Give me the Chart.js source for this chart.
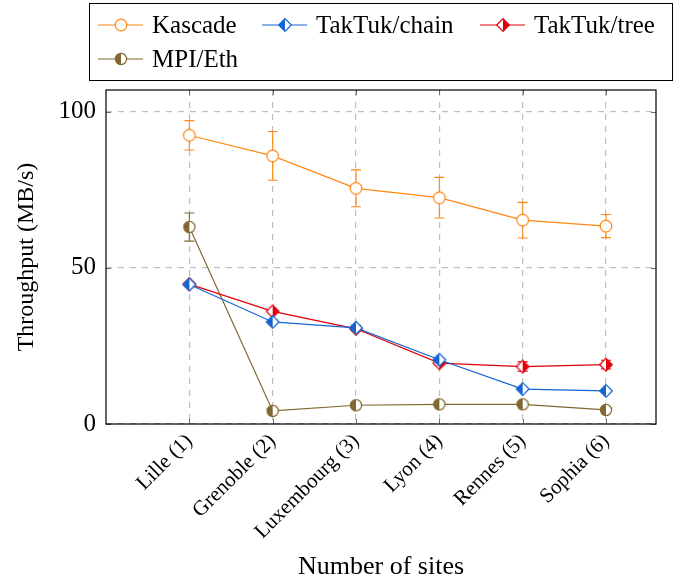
<!DOCTYPE html>
<html>
<head>
<meta charset="utf-8">
<script src="https://cdn.jsdelivr.net/npm/chart.js@4"></script>
<style>
  html, body { margin: 0; padding: 0; background: #fff; }
  #wrap { width: 683px; height: 581px; }
</style>
</head>
<body>
<div id="wrap"><canvas id="grafico"></canvas></div>
<script>
// DATOS
const sitios = ['Lille (1)', 'Grenoble (2)', 'Luxembourg (3)', 'Lyon (4)', 'Rennes (5)', 'Sophia (6)'];
const posiciones = [1, 2, 3, 4, 5, 6];
const yTicks = [0, 50, 100];

const kascade = [92.5, 85.9, 75.5, 72.5, 65.3, 63.4];
const kascadeErr = [4.7, 7.8, 5.9, 6.5, 5.7, 3.7];
const chain = [44.7, 32.7, 30.8, 20.6, 11.2, 10.6];
const chainErr = [0.3, 0.5, 0.8, 0.5, 0.4, 0.4];
const tree = [44.8, 36.1, 30.5, 19.5, 18.4, 19.0];
const treeErr = [0.3, 0.4, 0.6, 0.6, 1.5, 1.4];
const mpi = [63.1, 4.2, 6.0, 6.3, 6.3, 4.5];
const mpiErr = [4.5, 0.4, 0.3, 0.3, 0.3, 0.3];

const NARANJA = 'rgb(255,135,20)';
const AZUL = 'rgb(20,100,210)';
const ROJO = 'rgb(225,0,10)';
const OLIVA = 'rgb(128,104,48)';
const FUENTE = '"Liberation Serif", "DejaVu Serif", serif';

// MARCADORES MEDIO RELLENOS
function marcador(forma, color, lado) {
    const c = document.createElement('canvas');
    c.width = 16; c.height = 16;
    const g = c.getContext('2d');
    const m = 8, r = 5.6;
    g.lineWidth = 1.2;
    g.strokeStyle = color;
    g.fillStyle = '#fff';
    if (forma === 'circulo') {
        g.beginPath(); g.arc(m, m, r, 0, Math.PI * 2); g.fill();
        g.fillStyle = color;
        g.beginPath();
        if (lado === 'izq') g.arc(m, m, r, Math.PI / 2, Math.PI * 1.5);
        else g.arc(m, m, r, -Math.PI / 2, Math.PI / 2);
        g.closePath(); g.fill();
        g.beginPath(); g.arc(m, m, r, 0, Math.PI * 2); g.stroke();
    } else {
        const rd = 6.3;
        g.beginPath();
        g.moveTo(m - rd, m); g.lineTo(m, m - rd); g.lineTo(m + rd, m); g.lineTo(m, m + rd);
        g.closePath(); g.fill();
        g.fillStyle = color;
        g.beginPath();
        if (lado === 'izq') { g.moveTo(m, m - rd); g.lineTo(m - rd, m); g.lineTo(m, m + rd); }
        else { g.moveTo(m, m - rd); g.lineTo(m + rd, m); g.lineTo(m, m + rd); }
        g.closePath(); g.fill();
        g.beginPath();
        g.moveTo(m - rd, m); g.lineTo(m, m - rd); g.lineTo(m + rd, m); g.lineTo(m, m + rd);
        g.closePath(); g.stroke();
    }
    return c;
}

const mKascade = (function () {
    const c = document.createElement('canvas');
    c.width = 16; c.height = 16;
    const g = c.getContext('2d');
    g.fillStyle = '#fff'; g.strokeStyle = NARANJA; g.lineWidth = 1.2;
    g.beginPath(); g.arc(8, 8, 5.8, 0, Math.PI * 2); g.fill(); g.stroke();
    return c;
})();
const mChain = marcador('diamante', AZUL, 'izq');
const mTree = marcador('diamante', ROJO, 'der');
const mMpi = marcador('circulo', OLIVA, 'izq');

function serie(label, valores, errores, color, imagen) {
    return {
        label: label,
        data: posiciones.map((x, i) => ({ x: x, y: valores[i] })),
        errores: errores,
        imagen: imagen,
        borderColor: color,
        backgroundColor: color,
        borderWidth: 1.2,
        pointStyle: imagen,
        pointRadius: 6,
        tension: 0
    };
}

// BARRAS DE ERROR
const barrasError = {
    id: 'barrasError',
    beforeDatasetsDraw(chart) {
        const ctx = chart.ctx;
        const ys = chart.scales.y;
        chart.data.datasets.forEach((ds, i) => {
            const meta = chart.getDatasetMeta(i);
            ctx.save();
            ctx.strokeStyle = ds.borderColor;
            ctx.lineWidth = 1.1;
            meta.data.forEach((p, j) => {
                const e = ds.errores[j];
                const v = ds.data[j].y;
                const y1 = ys.getPixelForValue(v + e);
                const y2 = ys.getPixelForValue(v - e);
                ctx.beginPath();
                ctx.moveTo(p.x, y1); ctx.lineTo(p.x, y2);
                ctx.moveTo(p.x - 5, y1); ctx.lineTo(p.x + 5, y1);
                ctx.moveTo(p.x - 5, y2); ctx.lineTo(p.x + 5, y2);
                ctx.stroke();
            });
            ctx.restore();
        });
    }
};

// MARCO, MARCAS INTERIORES Y LEYENDA
const marco = {
    id: 'marco',
    afterDraw(chart) {
        const ctx = chart.ctx;
        const a = chart.chartArea;
        const xs = chart.scales.x, ys = chart.scales.y;
        ctx.save();
        ctx.strokeStyle = 'rgb(110,110,110)';
        ctx.lineWidth = 1;
        ctx.beginPath();
        posiciones.forEach(v => {
            const px = Math.round(xs.getPixelForValue(v)) + 0.5;
            ctx.moveTo(px, a.bottom); ctx.lineTo(px, a.bottom - 5);
            ctx.moveTo(px, a.top); ctx.lineTo(px, a.top + 5);
        });
        yTicks.forEach(v => {
            const py = Math.round(ys.getPixelForValue(v)) + 0.5;
            ctx.moveTo(a.left, py); ctx.lineTo(a.left + 5, py);
            ctx.moveTo(a.right, py); ctx.lineTo(a.right - 5, py);
        });
        ctx.stroke();
        ctx.strokeStyle = '#000';
        ctx.lineWidth = 1.2;
        ctx.strokeRect(a.left, a.top, a.right - a.left, a.bottom - a.top);

        // leyenda
        ctx.lineWidth = 1;
        ctx.strokeRect(89.5, 3.5, 583, 77);
        const columnas = [98, 262, 480];
        const filas = [25, 59];
        ctx.font = '25px ' + FUENTE;
        ctx.textBaseline = 'middle';
        chart.data.datasets.forEach((ds, i) => {
            const x0 = columnas[i % 3];
            const y0 = filas[Math.floor(i / 3)];
            ctx.strokeStyle = ds.borderColor;
            ctx.lineWidth = 1.2;
            ctx.beginPath(); ctx.moveTo(x0, y0); ctx.lineTo(x0 + 45, y0); ctx.stroke();
            ctx.drawImage(ds.imagen, x0 + 23 - 8, y0 - 8);
            ctx.fillStyle = '#000';
            ctx.fillText(ds.label, x0 + 54, y0 + 1);
        });
        ctx.restore();
    }
};

new Chart(document.getElementById('grafico'), {
    type: 'line',
    data: {
        datasets: [
            serie('Kascade', kascade, kascadeErr, NARANJA, mKascade),
            serie('TakTuk/chain', chain, chainErr, AZUL, mChain),
            serie('TakTuk/tree', tree, treeErr, ROJO, mTree),
            serie('MPI/Eth', mpi, mpiErr, OLIVA, mMpi)
        ]
    },
    options: {
        responsive: true,
        maintainAspectRatio: false,
        animation: false,
        events: [],
        layout: { padding: { top: 90, right: 27, left: 0, bottom: 0 } },
        plugins: { legend: { display: false }, tooltip: { enabled: false } },
        scales: {
            x: {
                type: 'linear',
                min: 0,
                max: 6.6,
                afterBuildTicks: (s) => { s.ticks = posiciones.map(v => ({ value: v })); },
                afterFit: (s) => { s.height = 157; },
                grid: { color: 'rgb(190,190,190)', drawTicks: false, lineWidth: 1.2 },
                border: { display: false, dash: [6, 6] },
                ticks: {
                    autoSkip: false,
                    minRotation: 45,
                    maxRotation: 45,
                    padding: 5,
                    color: '#000',
                    font: { family: FUENTE, size: 21 },
                    callback: (v) => sitios[posiciones.indexOf(v)]
                },
                title: {
                    display: true,
                    text: 'Number of sites',
                    color: '#000',
                    font: { family: FUENTE, size: 26, lineHeight: 1.1 },
                    padding: { top: 0, bottom: 0 }
                }
            },
            y: {
                min: 0,
                max: 107,
                afterBuildTicks: (s) => { s.ticks = yTicks.map(v => ({ value: v })); },
                afterFit: (s) => { s.width = 106; },
                grid: { color: 'rgb(190,190,190)', drawTicks: false, lineWidth: 1.2 },
                border: { display: false, dash: [6, 6] },
                ticks: {
                    padding: 10,
                    color: '#000',
                    font: { family: FUENTE, size: 25 }
                },
                title: {
                    display: true,
                    text: 'Throughput (MB/s)',
                    color: '#000',
                    font: { family: FUENTE, size: 24, lineHeight: 1.2 },
                    padding: { top: 12, bottom: 0 }
                }
            }
        }
    },
    plugins: [barrasError, marco]
});
</script>
</body>
</html>
